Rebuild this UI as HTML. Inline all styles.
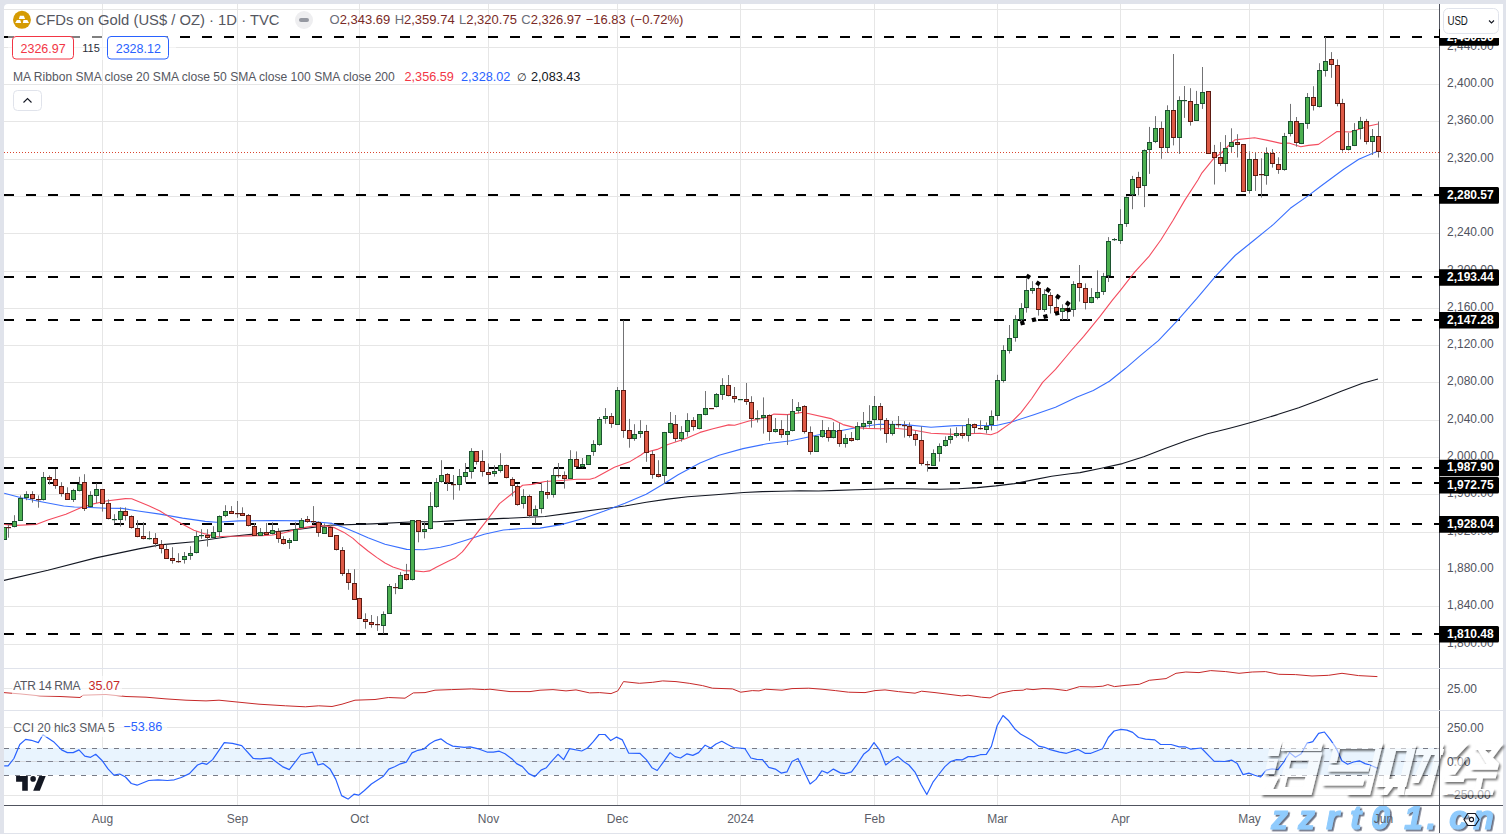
<!DOCTYPE html>
<html><head><meta charset="utf-8"><style>
html,body{margin:0;padding:0;}
body{width:1506px;height:834px;background:#e0e3eb;position:relative;overflow:hidden;font-family:"Liberation Sans",sans-serif;}
.panel{position:absolute;left:4px;top:4px;width:1499px;height:829px;background:#fff;border-radius:4px 4px 0 0;}
svg{position:absolute;left:0;top:0;}
.t{position:absolute;white-space:nowrap;line-height:1;}
</style></head><body>
<div class="panel"></div>
<svg width="1506" height="834" viewBox="0 0 1506 834">
<defs><clipPath id="cp"><rect x="4" y="4" width="1435" height="664"/></clipPath><clipPath id="cp2"><rect x="4" y="669" width="1435" height="136"/></clipPath></defs>
<line x1="4" y1="9.5" x2="1439" y2="9.5" stroke="#e6e6e6" stroke-width="1"/>
<line x1="4" y1="47.5" x2="1439" y2="47.5" stroke="#e6e6e6" stroke-width="1"/>
<line x1="4" y1="84.5" x2="1439" y2="84.5" stroke="#e6e6e6" stroke-width="1"/>
<line x1="4" y1="121.5" x2="1439" y2="121.5" stroke="#e6e6e6" stroke-width="1"/>
<line x1="4" y1="159.5" x2="1439" y2="159.5" stroke="#e6e6e6" stroke-width="1"/>
<line x1="4" y1="196.5" x2="1439" y2="196.5" stroke="#e6e6e6" stroke-width="1"/>
<line x1="4" y1="233.5" x2="1439" y2="233.5" stroke="#e6e6e6" stroke-width="1"/>
<line x1="4" y1="271.5" x2="1439" y2="271.5" stroke="#e6e6e6" stroke-width="1"/>
<line x1="4" y1="308.5" x2="1439" y2="308.5" stroke="#e6e6e6" stroke-width="1"/>
<line x1="4" y1="345.5" x2="1439" y2="345.5" stroke="#e6e6e6" stroke-width="1"/>
<line x1="4" y1="382.5" x2="1439" y2="382.5" stroke="#e6e6e6" stroke-width="1"/>
<line x1="4" y1="420.5" x2="1439" y2="420.5" stroke="#e6e6e6" stroke-width="1"/>
<line x1="4" y1="457.5" x2="1439" y2="457.5" stroke="#e6e6e6" stroke-width="1"/>
<line x1="4" y1="494.5" x2="1439" y2="494.5" stroke="#e6e6e6" stroke-width="1"/>
<line x1="4" y1="532.5" x2="1439" y2="532.5" stroke="#e6e6e6" stroke-width="1"/>
<line x1="4" y1="569.5" x2="1439" y2="569.5" stroke="#e6e6e6" stroke-width="1"/>
<line x1="4" y1="606.5" x2="1439" y2="606.5" stroke="#e6e6e6" stroke-width="1"/>
<line x1="4" y1="644.5" x2="1439" y2="644.5" stroke="#e6e6e6" stroke-width="1"/>
<line x1="102.5" y1="4" x2="102.5" y2="805" stroke="#e6e6e6" stroke-width="1"/>
<line x1="237.5" y1="4" x2="237.5" y2="805" stroke="#e6e6e6" stroke-width="1"/>
<line x1="359.5" y1="4" x2="359.5" y2="805" stroke="#e6e6e6" stroke-width="1"/>
<line x1="488.5" y1="4" x2="488.5" y2="805" stroke="#e6e6e6" stroke-width="1"/>
<line x1="617.5" y1="4" x2="617.5" y2="805" stroke="#e6e6e6" stroke-width="1"/>
<line x1="740.5" y1="4" x2="740.5" y2="805" stroke="#e6e6e6" stroke-width="1"/>
<line x1="874.5" y1="4" x2="874.5" y2="805" stroke="#e6e6e6" stroke-width="1"/>
<line x1="997.5" y1="4" x2="997.5" y2="805" stroke="#e6e6e6" stroke-width="1"/>
<line x1="1120.5" y1="4" x2="1120.5" y2="805" stroke="#e6e6e6" stroke-width="1"/>
<line x1="1249.5" y1="4" x2="1249.5" y2="805" stroke="#e6e6e6" stroke-width="1"/>
<line x1="1383.5" y1="4" x2="1383.5" y2="805" stroke="#e6e6e6" stroke-width="1"/>
<line x1="4" y1="688.5" x2="1439" y2="688.5" stroke="#e6e6e6" stroke-width="1"/>
<line x1="4" y1="727.5" x2="1439" y2="727.5" stroke="#e6e6e6" stroke-width="1"/>
<line x1="4" y1="795.5" x2="1439" y2="795.5" stroke="#e6e6e6" stroke-width="1"/>
<rect x="4" y="748" width="1435" height="27" fill="#e9f4fe"/>
<line x1="4" y1="761.5" x2="1439" y2="761.5" stroke="#d8dbe0" stroke-width="1"/>
<line x1="4" y1="748.5" x2="1439" y2="748.5" stroke="#787b86" stroke-width="1" stroke-dasharray="5 6"/>
<line x1="4" y1="761.5" x2="1439" y2="761.5" stroke="#808390" stroke-width="1" stroke-dasharray="5 6"/>
<line x1="4" y1="775.5" x2="1439" y2="775.5" stroke="#787b86" stroke-width="1" stroke-dasharray="5 6"/>
<line x1="4" y1="668.5" x2="1503" y2="668.5" stroke="#e0e3eb" stroke-width="1"/>
<line x1="4" y1="710.5" x2="1503" y2="710.5" stroke="#e0e3eb" stroke-width="1"/>
<g clip-path="url(#cp)">
<line x1="4" y1="37" x2="1439" y2="37" stroke="#000" stroke-width="2" stroke-dasharray="10 12"/>
<line x1="4" y1="195" x2="1439" y2="195" stroke="#000" stroke-width="2" stroke-dasharray="10 12"/>
<line x1="4" y1="277" x2="1439" y2="277" stroke="#000" stroke-width="2" stroke-dasharray="10 12"/>
<line x1="4" y1="320" x2="1439" y2="320" stroke="#000" stroke-width="2" stroke-dasharray="10 12"/>
<line x1="4" y1="468" x2="1439" y2="468" stroke="#000" stroke-width="2" stroke-dasharray="10 12"/>
<line x1="4" y1="483" x2="1439" y2="483" stroke="#000" stroke-width="2" stroke-dasharray="10 12"/>
<line x1="4" y1="524" x2="1439" y2="524" stroke="#000" stroke-width="2" stroke-dasharray="10 12"/>
<line x1="4" y1="634" x2="1439" y2="634" stroke="#000" stroke-width="2" stroke-dasharray="10 12"/>
<line x1="4" y1="152.5" x2="1439" y2="152.5" stroke="#d9442e" stroke-width="1" stroke-dasharray="1 2"/>
<polyline points="4.0,580.4 47.9,570.3 95.9,557.9 140.0,548.6 160.0,544.9 193.9,541.8 227.7,536.7 261.6,533.3 295.5,529.6 330.0,525.2 372.5,523.9 415.0,521.8 436.2,521.8 465.0,520.1 503.4,518.4 545.0,516.5 571.9,512.9 603.7,508.7 625.0,506.0 646.2,502.3 667.5,499.1 687.9,496.7 715.8,494.7 743.7,492.5 762.3,491.6 780.9,491.3 800.0,490.8 818.6,491.0 837.2,490.4 855.8,489.8 874.4,489.2 893.0,488.7 911.6,488.7 920.9,489.0 940.0,489.3 958.6,488.7 977.2,487.6 995.8,485.9 1014.4,483.6 1033.0,479.9 1051.6,476.3 1070.1,473.8 1080.0,472.6 1101.2,468.3 1122.5,463.6 1143.7,456.7 1165.0,448.5 1186.2,440.7 1207.5,433.8 1228.7,428.5 1240.0,425.5 1256.2,421.0 1277.5,414.6 1298.7,407.7 1320.0,399.7 1341.2,391.2 1362.5,383.3 1378.0,379.0" fill="none" stroke="#131722" stroke-width="1.1" stroke-linejoin="round"/>
<polyline points="4.2,493.3 21.2,497.7 42.5,502.0 63.7,506.0 74.4,507.0 85.0,507.3 106.2,508.2 122.2,508.4 138.1,511.0 160.0,514.1 182.6,518.1 205.2,521.4 216.4,522.2 239.0,520.9 272.9,520.5 301.1,520.9 320.0,522.2 332.0,523.4 344.0,527.6 356.0,532.4 368.0,537.8 385.0,544.2 406.7,549.4 423.6,549.7 440.4,547.2 450.6,545.0 465.0,540.5 484.2,534.3 503.4,530.0 522.6,528.5 540.0,528.1 561.2,524.6 582.5,518.7 603.7,511.3 625.0,503.3 646.2,494.3 662.2,484.7 678.1,474.7 700.0,463.0 719.0,455.2 743.0,448.6 767.0,443.8 791.0,440.8 805.0,437.8 819.0,434.8 843.0,430.3 861.0,426.7 879.0,424.3 905.0,424.6 931.0,427.2 955.0,425.6 980.0,425.5 996.2,425.5 1012.4,421.7 1033.9,414.7 1055.5,407.2 1077.1,396.9 1093.3,390.5 1109.4,381.3 1125.6,368.3 1140.0,355.9 1158.4,340.7 1177.6,320.3 1196.7,298.7 1215.9,275.9 1235.1,255.5 1254.3,240.0 1273.5,224.4 1290.3,208.3 1309.4,194.9 1320.0,186.7 1343.7,169.3 1358.8,159.2 1378.0,151.0" fill="none" stroke="#3a70ff" stroke-width="1.1" stroke-linejoin="round"/>
<polyline points="4.0,524.5 15.9,525.4 36.1,524.5 47.8,520.0 65.9,514.2 80.7,507.8 92.4,504.1 106.2,501.0 125.4,498.6 131.7,498.8 148.7,505.7 160.0,511.0 171.3,518.1 182.6,524.3 193.9,530.3 205.2,533.9 216.4,536.7 227.7,536.3 239.0,536.3 250.3,535.9 261.6,535.6 272.9,535.0 284.2,532.7 295.5,529.6 306.7,527.1 318.0,525.4 329.0,526.4 335.0,527.9 344.0,532.4 353.0,538.4 359.0,543.8 368.0,551.0 377.0,557.6 385.0,563.0 392.9,566.9 403.8,570.6 414.8,570.9 423.6,571.7 429.4,570.9 436.7,566.9 447.7,561.4 455.0,558.1 462.3,551.9 465.0,548.7 474.6,536.2 488.0,518.9 499.5,503.6 511.0,494.5 522.6,485.3 532.1,484.4 540.0,482.6 545.0,481.5 561.2,480.5 577.2,479.2 589.9,479.2 595.2,477.8 614.4,467.2 630.3,461.4 640.9,455.0 644.0,452.8 657.2,449.4 668.0,444.4 686.0,438.4 700.0,432.4 713.0,428.8 728.6,424.9 734.6,425.3 749.0,421.0 767.0,417.4 774.0,414.1 787.4,414.6 805.0,412.0 807.0,413.2 831.0,418.6 843.0,424.6 855.0,427.6 867.0,428.4 879.0,428.8 895.0,428.2 913.0,430.0 931.0,433.2 955.0,434.4 980.0,433.3 990.8,434.7 997.3,432.5 1010.2,423.4 1021.0,412.6 1031.8,398.5 1042.6,382.4 1055.5,369.4 1066.3,356.5 1071.7,350.0 1083.5,336.7 1100.0,316.4 1112.4,300.2 1120.0,290.8 1134.4,272.3 1148.8,256.7 1160.8,240.0 1172.8,220.8 1184.7,200.4 1197.9,180.0 1202.0,172.8 1213.8,158.4 1221.6,152.7 1228.2,146.0 1234.8,139.9 1254.6,137.8 1267.8,140.4 1281.0,143.4 1288.9,143.0 1300.8,146.7 1308.4,145.4 1318.5,144.4 1328.6,137.4 1337.0,131.5 1350.4,132.0 1362.1,128.2 1368.8,126.0 1378.0,124.0" fill="none" stroke="#f44c5f" stroke-width="1.1" stroke-linejoin="round"/>
<line x1="4.5" y1="527.0" x2="4.5" y2="540.0" stroke="#737375" stroke-width="1"/>
<rect x="2.5" y="527.5" width="4" height="12" fill="#4caf50" stroke="#1c5230" stroke-width="1"/>
<line x1="8.5" y1="524.8" x2="8.5" y2="537.7" stroke="#737375" stroke-width="1"/>
<rect x="6" y="527" width="5" height="1.2" fill="#5c1a12"/>
<line x1="14.5" y1="515.2" x2="14.5" y2="527.4" stroke="#737375" stroke-width="1"/>
<rect x="12.5" y="521.5" width="4" height="5" fill="#4caf50" stroke="#1c5230" stroke-width="1"/>
<line x1="20.5" y1="495.4" x2="20.5" y2="520.6" stroke="#737375" stroke-width="1"/>
<rect x="18.5" y="498.5" width="4" height="22" fill="#4caf50" stroke="#1c5230" stroke-width="1"/>
<line x1="26.5" y1="491.2" x2="26.5" y2="500.2" stroke="#737375" stroke-width="1"/>
<rect x="24.5" y="494.5" width="4" height="3" fill="#4caf50" stroke="#1c5230" stroke-width="1"/>
<line x1="32.5" y1="491.2" x2="32.5" y2="502.6" stroke="#737375" stroke-width="1"/>
<rect x="30.5" y="494.5" width="4" height="4" fill="#de5a46" stroke="#5c1a12" stroke-width="1"/>
<line x1="38.5" y1="495.4" x2="38.5" y2="507.7" stroke="#737375" stroke-width="1"/>
<rect x="36" y="499" width="5" height="1.2" fill="#5c1a12"/>
<line x1="43.5" y1="472.0" x2="43.5" y2="500.5" stroke="#737375" stroke-width="1"/>
<rect x="41.5" y="477.5" width="4" height="22" fill="#4caf50" stroke="#1c5230" stroke-width="1"/>
<line x1="49.5" y1="475.4" x2="49.5" y2="484.6" stroke="#737375" stroke-width="1"/>
<rect x="47.5" y="477.5" width="4" height="2" fill="#de5a46" stroke="#5c1a12" stroke-width="1"/>
<line x1="55.5" y1="469.0" x2="55.5" y2="488.8" stroke="#737375" stroke-width="1"/>
<rect x="53.5" y="479.5" width="4" height="6" fill="#de5a46" stroke="#5c1a12" stroke-width="1"/>
<line x1="61.5" y1="482.2" x2="61.5" y2="496.6" stroke="#737375" stroke-width="1"/>
<rect x="59.5" y="486.5" width="4" height="7" fill="#de5a46" stroke="#5c1a12" stroke-width="1"/>
<line x1="67.5" y1="487.3" x2="67.5" y2="499.6" stroke="#737375" stroke-width="1"/>
<rect x="65.5" y="493.5" width="4" height="6" fill="#de5a46" stroke="#5c1a12" stroke-width="1"/>
<line x1="73.5" y1="488.8" x2="73.5" y2="502.0" stroke="#737375" stroke-width="1"/>
<rect x="71.5" y="490.5" width="4" height="9" fill="#4caf50" stroke="#1c5230" stroke-width="1"/>
<line x1="79.5" y1="476.8" x2="79.5" y2="491.4" stroke="#737375" stroke-width="1"/>
<rect x="77.5" y="484.5" width="4" height="6" fill="#4caf50" stroke="#1c5230" stroke-width="1"/>
<line x1="84.5" y1="474.2" x2="84.5" y2="511.0" stroke="#737375" stroke-width="1"/>
<rect x="82.5" y="482.5" width="4" height="26" fill="#de5a46" stroke="#5c1a12" stroke-width="1"/>
<line x1="90.5" y1="491.2" x2="90.5" y2="507.4" stroke="#737375" stroke-width="1"/>
<rect x="88.5" y="495.5" width="4" height="11" fill="#4caf50" stroke="#1c5230" stroke-width="1"/>
<line x1="96.5" y1="483.4" x2="96.5" y2="503.0" stroke="#737375" stroke-width="1"/>
<rect x="94.5" y="489.5" width="4" height="6" fill="#4caf50" stroke="#1c5230" stroke-width="1"/>
<line x1="102.5" y1="489.1" x2="102.5" y2="511.6" stroke="#737375" stroke-width="1"/>
<rect x="100.5" y="489.5" width="4" height="14" fill="#de5a46" stroke="#5c1a12" stroke-width="1"/>
<line x1="108.5" y1="499.3" x2="108.5" y2="519.4" stroke="#737375" stroke-width="1"/>
<rect x="106.5" y="503.5" width="4" height="15" fill="#de5a46" stroke="#5c1a12" stroke-width="1"/>
<line x1="114.5" y1="514.2" x2="114.5" y2="523.6" stroke="#737375" stroke-width="1"/>
<rect x="112" y="519" width="5" height="1.2" fill="#1c5230"/>
<line x1="120.5" y1="507.4" x2="120.5" y2="526.6" stroke="#737375" stroke-width="1"/>
<rect x="118.5" y="511.5" width="4" height="8" fill="#4caf50" stroke="#1c5230" stroke-width="1"/>
<line x1="125.5" y1="507.4" x2="125.5" y2="520.6" stroke="#737375" stroke-width="1"/>
<rect x="123.5" y="511.5" width="4" height="4" fill="#de5a46" stroke="#5c1a12" stroke-width="1"/>
<line x1="131.5" y1="515.4" x2="131.5" y2="528.6" stroke="#737375" stroke-width="1"/>
<rect x="129.5" y="516.5" width="4" height="11" fill="#de5a46" stroke="#5c1a12" stroke-width="1"/>
<line x1="137.5" y1="520.2" x2="137.5" y2="537.3" stroke="#737375" stroke-width="1"/>
<rect x="135.5" y="528.5" width="4" height="8" fill="#de5a46" stroke="#5c1a12" stroke-width="1"/>
<line x1="143.5" y1="522.2" x2="143.5" y2="539.4" stroke="#737375" stroke-width="1"/>
<rect x="141.5" y="536.5" width="4" height="2" fill="#de5a46" stroke="#5c1a12" stroke-width="1"/>
<line x1="149.5" y1="531.3" x2="149.5" y2="539.6" stroke="#737375" stroke-width="1"/>
<rect x="147" y="538" width="5" height="1.2" fill="#1c5230"/>
<line x1="155.5" y1="533.1" x2="155.5" y2="547.2" stroke="#737375" stroke-width="1"/>
<rect x="153.5" y="538.5" width="4" height="5" fill="#de5a46" stroke="#5c1a12" stroke-width="1"/>
<line x1="161.5" y1="540.0" x2="161.5" y2="553.4" stroke="#737375" stroke-width="1"/>
<rect x="159.5" y="544.5" width="4" height="4" fill="#de5a46" stroke="#5c1a12" stroke-width="1"/>
<line x1="166.5" y1="544.8" x2="166.5" y2="558.6" stroke="#737375" stroke-width="1"/>
<rect x="164.5" y="549.5" width="4" height="9" fill="#de5a46" stroke="#5c1a12" stroke-width="1"/>
<line x1="172.5" y1="547.2" x2="172.5" y2="563.6" stroke="#737375" stroke-width="1"/>
<rect x="170.5" y="558.5" width="4" height="2" fill="#de5a46" stroke="#5c1a12" stroke-width="1"/>
<line x1="178.5" y1="553.2" x2="178.5" y2="562.8" stroke="#737375" stroke-width="1"/>
<rect x="176" y="561" width="5" height="1.2" fill="#5c1a12"/>
<line x1="184.5" y1="552.0" x2="184.5" y2="563.6" stroke="#737375" stroke-width="1"/>
<rect x="182.5" y="556.5" width="4" height="3" fill="#4caf50" stroke="#1c5230" stroke-width="1"/>
<line x1="190.5" y1="546.2" x2="190.5" y2="559.8" stroke="#737375" stroke-width="1"/>
<rect x="188.5" y="553.5" width="4" height="2" fill="#4caf50" stroke="#1c5230" stroke-width="1"/>
<line x1="196.5" y1="531.3" x2="196.5" y2="553.4" stroke="#737375" stroke-width="1"/>
<rect x="194.5" y="536.5" width="4" height="16" fill="#4caf50" stroke="#1c5230" stroke-width="1"/>
<line x1="201.5" y1="529.2" x2="201.5" y2="538.8" stroke="#737375" stroke-width="1"/>
<rect x="199" y="535" width="5" height="1.2" fill="#1c5230"/>
<line x1="207.5" y1="529.2" x2="207.5" y2="546.6" stroke="#737375" stroke-width="1"/>
<rect x="205.5" y="535.5" width="4" height="2" fill="#de5a46" stroke="#5c1a12" stroke-width="1"/>
<line x1="213.5" y1="526.2" x2="213.5" y2="537.6" stroke="#737375" stroke-width="1"/>
<rect x="211.5" y="532.5" width="4" height="5" fill="#4caf50" stroke="#1c5230" stroke-width="1"/>
<line x1="219.5" y1="515.4" x2="219.5" y2="537.0" stroke="#737375" stroke-width="1"/>
<rect x="217.5" y="516.5" width="4" height="15" fill="#4caf50" stroke="#1c5230" stroke-width="1"/>
<line x1="225.5" y1="505.2" x2="225.5" y2="517.2" stroke="#737375" stroke-width="1"/>
<rect x="223.5" y="511.5" width="4" height="4" fill="#4caf50" stroke="#1c5230" stroke-width="1"/>
<line x1="231.5" y1="506.1" x2="231.5" y2="513.3" stroke="#737375" stroke-width="1"/>
<rect x="229.5" y="511.5" width="4" height="2" fill="#de5a46" stroke="#5c1a12" stroke-width="1"/>
<line x1="237.5" y1="501.0" x2="237.5" y2="517.8" stroke="#737375" stroke-width="1"/>
<rect x="235" y="513" width="5" height="1.2" fill="#5c1a12"/>
<line x1="242.5" y1="507.3" x2="242.5" y2="515.4" stroke="#737375" stroke-width="1"/>
<rect x="240.5" y="513.5" width="4" height="2" fill="#de5a46" stroke="#5c1a12" stroke-width="1"/>
<line x1="248.5" y1="514.0" x2="248.5" y2="526.5" stroke="#737375" stroke-width="1"/>
<rect x="246.5" y="515.5" width="4" height="10" fill="#de5a46" stroke="#5c1a12" stroke-width="1"/>
<line x1="254.5" y1="523.0" x2="254.5" y2="535.5" stroke="#737375" stroke-width="1"/>
<rect x="252.5" y="526.5" width="4" height="9" fill="#de5a46" stroke="#5c1a12" stroke-width="1"/>
<line x1="260.5" y1="528.0" x2="260.5" y2="535.5" stroke="#737375" stroke-width="1"/>
<rect x="258.5" y="532.5" width="4" height="3" fill="#4caf50" stroke="#1c5230" stroke-width="1"/>
<line x1="266.5" y1="523.0" x2="266.5" y2="534.5" stroke="#737375" stroke-width="1"/>
<rect x="264.5" y="532.5" width="4" height="2" fill="#de5a46" stroke="#5c1a12" stroke-width="1"/>
<line x1="272.5" y1="522.3" x2="272.5" y2="534.5" stroke="#737375" stroke-width="1"/>
<rect x="270.5" y="530.5" width="4" height="3" fill="#4caf50" stroke="#1c5230" stroke-width="1"/>
<line x1="278.5" y1="528.2" x2="278.5" y2="542.8" stroke="#737375" stroke-width="1"/>
<rect x="276.5" y="531.5" width="4" height="7" fill="#de5a46" stroke="#5c1a12" stroke-width="1"/>
<line x1="283.5" y1="536.3" x2="283.5" y2="544.6" stroke="#737375" stroke-width="1"/>
<rect x="281.5" y="539.5" width="4" height="4" fill="#de5a46" stroke="#5c1a12" stroke-width="1"/>
<line x1="289.5" y1="538.1" x2="289.5" y2="548.9" stroke="#737375" stroke-width="1"/>
<rect x="287.5" y="540.5" width="4" height="2" fill="#4caf50" stroke="#1c5230" stroke-width="1"/>
<line x1="295.5" y1="522.3" x2="295.5" y2="540.6" stroke="#737375" stroke-width="1"/>
<rect x="293.5" y="529.5" width="4" height="11" fill="#4caf50" stroke="#1c5230" stroke-width="1"/>
<line x1="301.5" y1="518.0" x2="301.5" y2="528.4" stroke="#737375" stroke-width="1"/>
<rect x="299.5" y="520.5" width="4" height="7" fill="#4caf50" stroke="#1c5230" stroke-width="1"/>
<line x1="307.5" y1="516.0" x2="307.5" y2="522.9" stroke="#737375" stroke-width="1"/>
<rect x="305.5" y="519.5" width="4" height="2" fill="#de5a46" stroke="#5c1a12" stroke-width="1"/>
<line x1="313.5" y1="506.1" x2="313.5" y2="523.7" stroke="#737375" stroke-width="1"/>
<rect x="311" y="521" width="5" height="1.2" fill="#5c1a12"/>
<line x1="318.5" y1="521.4" x2="318.5" y2="536.8" stroke="#737375" stroke-width="1"/>
<rect x="316.5" y="522.5" width="4" height="10" fill="#de5a46" stroke="#5c1a12" stroke-width="1"/>
<line x1="324.5" y1="523.4" x2="324.5" y2="533.5" stroke="#737375" stroke-width="1"/>
<rect x="322.5" y="527.5" width="4" height="6" fill="#4caf50" stroke="#1c5230" stroke-width="1"/>
<line x1="330.5" y1="524.8" x2="330.5" y2="536.7" stroke="#737375" stroke-width="1"/>
<rect x="328.5" y="527.5" width="4" height="9" fill="#de5a46" stroke="#5c1a12" stroke-width="1"/>
<line x1="336.5" y1="535.3" x2="336.5" y2="550.5" stroke="#737375" stroke-width="1"/>
<rect x="334.5" y="535.5" width="4" height="14" fill="#de5a46" stroke="#5c1a12" stroke-width="1"/>
<line x1="342.5" y1="547.1" x2="342.5" y2="575.9" stroke="#737375" stroke-width="1"/>
<rect x="340.5" y="550.5" width="4" height="23" fill="#de5a46" stroke="#5c1a12" stroke-width="1"/>
<line x1="348.5" y1="569.2" x2="348.5" y2="589.8" stroke="#737375" stroke-width="1"/>
<rect x="346.5" y="573.5" width="4" height="9" fill="#de5a46" stroke="#5c1a12" stroke-width="1"/>
<line x1="354.5" y1="569.2" x2="354.5" y2="599.5" stroke="#737375" stroke-width="1"/>
<rect x="352.5" y="583.5" width="4" height="16" fill="#de5a46" stroke="#5c1a12" stroke-width="1"/>
<line x1="359.5" y1="597.8" x2="359.5" y2="618.6" stroke="#737375" stroke-width="1"/>
<rect x="357.5" y="598.5" width="4" height="20" fill="#de5a46" stroke="#5c1a12" stroke-width="1"/>
<line x1="365.5" y1="613.3" x2="365.5" y2="628.7" stroke="#737375" stroke-width="1"/>
<rect x="363.5" y="619.5" width="4" height="2" fill="#de5a46" stroke="#5c1a12" stroke-width="1"/>
<line x1="371.5" y1="615.0" x2="371.5" y2="627.7" stroke="#737375" stroke-width="1"/>
<rect x="369.5" y="622.5" width="4" height="2" fill="#de5a46" stroke="#5c1a12" stroke-width="1"/>
<line x1="377.5" y1="616.2" x2="377.5" y2="630.9" stroke="#737375" stroke-width="1"/>
<rect x="375" y="624" width="5" height="1.2" fill="#5c1a12"/>
<line x1="383.5" y1="611.4" x2="383.5" y2="633.7" stroke="#737375" stroke-width="1"/>
<rect x="381.5" y="614.5" width="4" height="11" fill="#4caf50" stroke="#1c5230" stroke-width="1"/>
<line x1="389.5" y1="584.0" x2="389.5" y2="613.6" stroke="#737375" stroke-width="1"/>
<rect x="387.5" y="586.5" width="4" height="27" fill="#4caf50" stroke="#1c5230" stroke-width="1"/>
<line x1="395.5" y1="583.1" x2="395.5" y2="594.2" stroke="#737375" stroke-width="1"/>
<rect x="393" y="587" width="5" height="1.2" fill="#5c1a12"/>
<line x1="400.5" y1="572.1" x2="400.5" y2="588.7" stroke="#737375" stroke-width="1"/>
<rect x="398.5" y="575.5" width="4" height="13" fill="#4caf50" stroke="#1c5230" stroke-width="1"/>
<line x1="406.5" y1="563.9" x2="406.5" y2="580.5" stroke="#737375" stroke-width="1"/>
<rect x="404.5" y="574.5" width="4" height="5" fill="#de5a46" stroke="#5c1a12" stroke-width="1"/>
<line x1="412.5" y1="520.4" x2="412.5" y2="580.5" stroke="#737375" stroke-width="1"/>
<rect x="410.5" y="520.5" width="4" height="59" fill="#4caf50" stroke="#1c5230" stroke-width="1"/>
<line x1="418.5" y1="520.4" x2="418.5" y2="542.3" stroke="#737375" stroke-width="1"/>
<rect x="416.5" y="520.5" width="4" height="11" fill="#de5a46" stroke="#5c1a12" stroke-width="1"/>
<line x1="424.5" y1="521.6" x2="424.5" y2="538.4" stroke="#737375" stroke-width="1"/>
<rect x="422.5" y="529.5" width="4" height="2" fill="#4caf50" stroke="#1c5230" stroke-width="1"/>
<line x1="430.5" y1="492.2" x2="430.5" y2="529.4" stroke="#737375" stroke-width="1"/>
<rect x="428.5" y="506.5" width="4" height="22" fill="#4caf50" stroke="#1c5230" stroke-width="1"/>
<line x1="436.5" y1="478.1" x2="436.5" y2="507.8" stroke="#737375" stroke-width="1"/>
<rect x="434.5" y="482.5" width="4" height="24" fill="#4caf50" stroke="#1c5230" stroke-width="1"/>
<line x1="441.5" y1="460.2" x2="441.5" y2="482.6" stroke="#737375" stroke-width="1"/>
<rect x="439.5" y="475.5" width="4" height="6" fill="#4caf50" stroke="#1c5230" stroke-width="1"/>
<line x1="447.5" y1="473.0" x2="447.5" y2="491.0" stroke="#737375" stroke-width="1"/>
<rect x="445.5" y="474.5" width="4" height="8" fill="#de5a46" stroke="#5c1a12" stroke-width="1"/>
<line x1="453.5" y1="475.0" x2="453.5" y2="499.7" stroke="#737375" stroke-width="1"/>
<rect x="451" y="484" width="5" height="1.2" fill="#5c1a12"/>
<line x1="459.5" y1="469.0" x2="459.5" y2="490.6" stroke="#737375" stroke-width="1"/>
<rect x="457.5" y="476.5" width="4" height="8" fill="#4caf50" stroke="#1c5230" stroke-width="1"/>
<line x1="465.5" y1="463.0" x2="465.5" y2="482.6" stroke="#737375" stroke-width="1"/>
<rect x="463.5" y="472.5" width="4" height="4" fill="#4caf50" stroke="#1c5230" stroke-width="1"/>
<line x1="471.5" y1="448.2" x2="471.5" y2="478.6" stroke="#737375" stroke-width="1"/>
<rect x="469.5" y="451.5" width="4" height="20" fill="#4caf50" stroke="#1c5230" stroke-width="1"/>
<line x1="476.5" y1="451.4" x2="476.5" y2="464.6" stroke="#737375" stroke-width="1"/>
<rect x="474.5" y="451.5" width="4" height="10" fill="#de5a46" stroke="#5c1a12" stroke-width="1"/>
<line x1="482.5" y1="450.2" x2="482.5" y2="476.6" stroke="#737375" stroke-width="1"/>
<rect x="480.5" y="461.5" width="4" height="10" fill="#de5a46" stroke="#5c1a12" stroke-width="1"/>
<line x1="488.5" y1="463.4" x2="488.5" y2="484.4" stroke="#737375" stroke-width="1"/>
<rect x="486.5" y="472.5" width="4" height="2" fill="#de5a46" stroke="#5c1a12" stroke-width="1"/>
<line x1="494.5" y1="465.2" x2="494.5" y2="476.6" stroke="#737375" stroke-width="1"/>
<rect x="492.5" y="471.5" width="4" height="2" fill="#4caf50" stroke="#1c5230" stroke-width="1"/>
<line x1="500.5" y1="453.2" x2="500.5" y2="472.6" stroke="#737375" stroke-width="1"/>
<rect x="498.5" y="465.5" width="4" height="5" fill="#4caf50" stroke="#1c5230" stroke-width="1"/>
<line x1="506.5" y1="464.6" x2="506.5" y2="478.4" stroke="#737375" stroke-width="1"/>
<rect x="504.5" y="465.5" width="4" height="12" fill="#de5a46" stroke="#5c1a12" stroke-width="1"/>
<line x1="512.5" y1="477.2" x2="512.5" y2="496.4" stroke="#737375" stroke-width="1"/>
<rect x="510.5" y="479.5" width="4" height="6" fill="#de5a46" stroke="#5c1a12" stroke-width="1"/>
<line x1="517.5" y1="484.4" x2="517.5" y2="505.7" stroke="#737375" stroke-width="1"/>
<rect x="515.5" y="486.5" width="4" height="18" fill="#de5a46" stroke="#5c1a12" stroke-width="1"/>
<line x1="523.5" y1="489.2" x2="523.5" y2="508.6" stroke="#737375" stroke-width="1"/>
<rect x="521.5" y="496.5" width="4" height="7" fill="#4caf50" stroke="#1c5230" stroke-width="1"/>
<line x1="529.5" y1="494.6" x2="529.5" y2="518.2" stroke="#737375" stroke-width="1"/>
<rect x="527.5" y="496.5" width="4" height="19" fill="#de5a46" stroke="#5c1a12" stroke-width="1"/>
<line x1="535.5" y1="505.4" x2="535.5" y2="523.4" stroke="#737375" stroke-width="1"/>
<rect x="533.5" y="509.5" width="4" height="6" fill="#4caf50" stroke="#1c5230" stroke-width="1"/>
<line x1="541.5" y1="483.0" x2="541.5" y2="513.4" stroke="#737375" stroke-width="1"/>
<rect x="539.5" y="491.5" width="4" height="17" fill="#4caf50" stroke="#1c5230" stroke-width="1"/>
<line x1="547.5" y1="480.2" x2="547.5" y2="498.8" stroke="#737375" stroke-width="1"/>
<rect x="545.5" y="492.5" width="4" height="2" fill="#de5a46" stroke="#5c1a12" stroke-width="1"/>
<line x1="553.5" y1="468.2" x2="553.5" y2="497.6" stroke="#737375" stroke-width="1"/>
<rect x="551.5" y="475.5" width="4" height="19" fill="#4caf50" stroke="#1c5230" stroke-width="1"/>
<line x1="558.5" y1="463.0" x2="558.5" y2="477.8" stroke="#737375" stroke-width="1"/>
<rect x="556" y="475" width="5" height="1.2" fill="#5c1a12"/>
<line x1="564.5" y1="471.4" x2="564.5" y2="488.6" stroke="#737375" stroke-width="1"/>
<rect x="562.5" y="475.5" width="4" height="3" fill="#de5a46" stroke="#5c1a12" stroke-width="1"/>
<line x1="570.5" y1="450.2" x2="570.5" y2="478.6" stroke="#737375" stroke-width="1"/>
<rect x="568.5" y="459.5" width="4" height="19" fill="#4caf50" stroke="#1c5230" stroke-width="1"/>
<line x1="576.5" y1="451.4" x2="576.5" y2="467.4" stroke="#737375" stroke-width="1"/>
<rect x="574.5" y="459.5" width="4" height="7" fill="#de5a46" stroke="#5c1a12" stroke-width="1"/>
<line x1="582.5" y1="458.0" x2="582.5" y2="467.4" stroke="#737375" stroke-width="1"/>
<rect x="580.5" y="464.5" width="4" height="2" fill="#4caf50" stroke="#1c5230" stroke-width="1"/>
<line x1="588.5" y1="455.4" x2="588.5" y2="464.6" stroke="#737375" stroke-width="1"/>
<rect x="586.5" y="455.5" width="4" height="9" fill="#4caf50" stroke="#1c5230" stroke-width="1"/>
<line x1="593.5" y1="440.2" x2="593.5" y2="455.8" stroke="#737375" stroke-width="1"/>
<rect x="591.5" y="444.5" width="4" height="7" fill="#4caf50" stroke="#1c5230" stroke-width="1"/>
<line x1="599.5" y1="417.0" x2="599.5" y2="445.8" stroke="#737375" stroke-width="1"/>
<rect x="597.5" y="419.5" width="4" height="25" fill="#4caf50" stroke="#1c5230" stroke-width="1"/>
<line x1="605.5" y1="408.1" x2="605.5" y2="423.7" stroke="#737375" stroke-width="1"/>
<rect x="603.5" y="416.5" width="4" height="2" fill="#4caf50" stroke="#1c5230" stroke-width="1"/>
<line x1="611.5" y1="413.0" x2="611.5" y2="427.8" stroke="#737375" stroke-width="1"/>
<rect x="609.5" y="416.5" width="4" height="7" fill="#de5a46" stroke="#5c1a12" stroke-width="1"/>
<line x1="617.5" y1="387.0" x2="617.5" y2="424.6" stroke="#737375" stroke-width="1"/>
<rect x="615.5" y="390.5" width="4" height="34" fill="#4caf50" stroke="#1c5230" stroke-width="1"/>
<line x1="623.5" y1="320.4" x2="623.5" y2="437.8" stroke="#737375" stroke-width="1"/>
<rect x="621.5" y="390.5" width="4" height="40" fill="#de5a46" stroke="#5c1a12" stroke-width="1"/>
<line x1="629.5" y1="418.9" x2="629.5" y2="447.7" stroke="#737375" stroke-width="1"/>
<rect x="627.5" y="430.5" width="4" height="8" fill="#de5a46" stroke="#5c1a12" stroke-width="1"/>
<line x1="634.5" y1="424.2" x2="634.5" y2="440.8" stroke="#737375" stroke-width="1"/>
<rect x="632.5" y="434.5" width="4" height="4" fill="#4caf50" stroke="#1c5230" stroke-width="1"/>
<line x1="640.5" y1="420.1" x2="640.5" y2="437.8" stroke="#737375" stroke-width="1"/>
<rect x="638.5" y="431.5" width="4" height="2" fill="#4caf50" stroke="#1c5230" stroke-width="1"/>
<line x1="646.5" y1="424.9" x2="646.5" y2="461.8" stroke="#737375" stroke-width="1"/>
<rect x="644.5" y="431.5" width="4" height="21" fill="#de5a46" stroke="#5c1a12" stroke-width="1"/>
<line x1="652.5" y1="450.6" x2="652.5" y2="478.7" stroke="#737375" stroke-width="1"/>
<rect x="650.5" y="454.5" width="4" height="20" fill="#de5a46" stroke="#5c1a12" stroke-width="1"/>
<line x1="658.5" y1="460.2" x2="658.5" y2="477.5" stroke="#737375" stroke-width="1"/>
<rect x="656.5" y="474.5" width="4" height="2" fill="#de5a46" stroke="#5c1a12" stroke-width="1"/>
<line x1="664.5" y1="431.9" x2="664.5" y2="483.5" stroke="#737375" stroke-width="1"/>
<rect x="662.5" y="432.5" width="4" height="43" fill="#4caf50" stroke="#1c5230" stroke-width="1"/>
<line x1="670.5" y1="412.0" x2="670.5" y2="433.6" stroke="#737375" stroke-width="1"/>
<rect x="668.5" y="423.5" width="4" height="9" fill="#4caf50" stroke="#1c5230" stroke-width="1"/>
<line x1="675.5" y1="415.0" x2="675.5" y2="441.7" stroke="#737375" stroke-width="1"/>
<rect x="673.5" y="424.5" width="4" height="14" fill="#de5a46" stroke="#5c1a12" stroke-width="1"/>
<line x1="681.5" y1="426.1" x2="681.5" y2="441.7" stroke="#737375" stroke-width="1"/>
<rect x="679.5" y="432.5" width="4" height="6" fill="#4caf50" stroke="#1c5230" stroke-width="1"/>
<line x1="687.5" y1="413.2" x2="687.5" y2="436.6" stroke="#737375" stroke-width="1"/>
<rect x="685.5" y="420.5" width="4" height="11" fill="#4caf50" stroke="#1c5230" stroke-width="1"/>
<line x1="693.5" y1="417.1" x2="693.5" y2="430.6" stroke="#737375" stroke-width="1"/>
<rect x="691.5" y="420.5" width="4" height="6" fill="#de5a46" stroke="#5c1a12" stroke-width="1"/>
<line x1="699.5" y1="414.4" x2="699.5" y2="429.4" stroke="#737375" stroke-width="1"/>
<rect x="697.5" y="414.5" width="4" height="14" fill="#4caf50" stroke="#1c5230" stroke-width="1"/>
<line x1="705.5" y1="391.0" x2="705.5" y2="415.3" stroke="#737375" stroke-width="1"/>
<rect x="703.5" y="408.5" width="4" height="6" fill="#4caf50" stroke="#1c5230" stroke-width="1"/>
<rect x="709" y="408" width="5" height="1.2" fill="#5c1a12"/>
<line x1="716.5" y1="393.0" x2="716.5" y2="407.4" stroke="#737375" stroke-width="1"/>
<rect x="714.5" y="394.5" width="4" height="12" fill="#4caf50" stroke="#1c5230" stroke-width="1"/>
<line x1="722.5" y1="378.2" x2="722.5" y2="399.8" stroke="#737375" stroke-width="1"/>
<rect x="720.5" y="385.5" width="4" height="9" fill="#4caf50" stroke="#1c5230" stroke-width="1"/>
<line x1="728.5" y1="375.0" x2="728.5" y2="396.4" stroke="#737375" stroke-width="1"/>
<rect x="726.5" y="385.5" width="4" height="10" fill="#de5a46" stroke="#5c1a12" stroke-width="1"/>
<line x1="734.5" y1="387.0" x2="734.5" y2="402.6" stroke="#737375" stroke-width="1"/>
<rect x="732.5" y="396.5" width="4" height="2" fill="#de5a46" stroke="#5c1a12" stroke-width="1"/>
<rect x="738" y="399" width="5" height="1.2" fill="#1c5230"/>
<line x1="746.5" y1="383.0" x2="746.5" y2="404.8" stroke="#737375" stroke-width="1"/>
<rect x="744.5" y="399.5" width="4" height="2" fill="#de5a46" stroke="#5c1a12" stroke-width="1"/>
<line x1="751.5" y1="396.2" x2="751.5" y2="427.6" stroke="#737375" stroke-width="1"/>
<rect x="749.5" y="402.5" width="4" height="16" fill="#de5a46" stroke="#5c1a12" stroke-width="1"/>
<line x1="757.5" y1="410.2" x2="757.5" y2="422.5" stroke="#737375" stroke-width="1"/>
<rect x="755" y="418" width="5" height="1.2" fill="#1c5230"/>
<line x1="763.5" y1="397.4" x2="763.5" y2="433.6" stroke="#737375" stroke-width="1"/>
<rect x="761.5" y="415.5" width="4" height="2" fill="#4caf50" stroke="#1c5230" stroke-width="1"/>
<line x1="769.5" y1="414.4" x2="769.5" y2="440.8" stroke="#737375" stroke-width="1"/>
<rect x="767.5" y="415.5" width="4" height="16" fill="#de5a46" stroke="#5c1a12" stroke-width="1"/>
<line x1="775.5" y1="418.0" x2="775.5" y2="432.6" stroke="#737375" stroke-width="1"/>
<rect x="773.5" y="429.5" width="4" height="2" fill="#4caf50" stroke="#1c5230" stroke-width="1"/>
<line x1="781.5" y1="420.1" x2="781.5" y2="437.8" stroke="#737375" stroke-width="1"/>
<rect x="779.5" y="429.5" width="4" height="5" fill="#de5a46" stroke="#5c1a12" stroke-width="1"/>
<line x1="787.5" y1="414.4" x2="787.5" y2="445.0" stroke="#737375" stroke-width="1"/>
<rect x="785.5" y="431.5" width="4" height="3" fill="#4caf50" stroke="#1c5230" stroke-width="1"/>
<line x1="792.5" y1="399.0" x2="792.5" y2="431.4" stroke="#737375" stroke-width="1"/>
<rect x="790.5" y="411.5" width="4" height="19" fill="#4caf50" stroke="#1c5230" stroke-width="1"/>
<line x1="798.5" y1="402.1" x2="798.5" y2="413.4" stroke="#737375" stroke-width="1"/>
<rect x="796.5" y="407.5" width="4" height="3" fill="#4caf50" stroke="#1c5230" stroke-width="1"/>
<line x1="804.5" y1="405.2" x2="804.5" y2="433.6" stroke="#737375" stroke-width="1"/>
<rect x="802.5" y="406.5" width="4" height="25" fill="#de5a46" stroke="#5c1a12" stroke-width="1"/>
<line x1="810.5" y1="426.4" x2="810.5" y2="454.6" stroke="#737375" stroke-width="1"/>
<rect x="808.5" y="432.5" width="4" height="19" fill="#de5a46" stroke="#5c1a12" stroke-width="1"/>
<line x1="816.5" y1="436.3" x2="816.5" y2="451.6" stroke="#737375" stroke-width="1"/>
<rect x="814.5" y="436.5" width="4" height="15" fill="#4caf50" stroke="#1c5230" stroke-width="1"/>
<line x1="822.5" y1="420.0" x2="822.5" y2="437.8" stroke="#737375" stroke-width="1"/>
<rect x="820.5" y="430.5" width="4" height="6" fill="#4caf50" stroke="#1c5230" stroke-width="1"/>
<line x1="828.5" y1="427.2" x2="828.5" y2="441.6" stroke="#737375" stroke-width="1"/>
<rect x="826.5" y="430.5" width="4" height="7" fill="#de5a46" stroke="#5c1a12" stroke-width="1"/>
<line x1="833.5" y1="422.2" x2="833.5" y2="438.4" stroke="#737375" stroke-width="1"/>
<rect x="831.5" y="430.5" width="4" height="7" fill="#4caf50" stroke="#1c5230" stroke-width="1"/>
<line x1="839.5" y1="423.1" x2="839.5" y2="446.8" stroke="#737375" stroke-width="1"/>
<rect x="837.5" y="430.5" width="4" height="13" fill="#de5a46" stroke="#5c1a12" stroke-width="1"/>
<line x1="845.5" y1="434.2" x2="845.5" y2="447.6" stroke="#737375" stroke-width="1"/>
<rect x="843.5" y="438.5" width="4" height="5" fill="#4caf50" stroke="#1c5230" stroke-width="1"/>
<line x1="851.5" y1="432.0" x2="851.5" y2="441.6" stroke="#737375" stroke-width="1"/>
<rect x="849.5" y="438.5" width="4" height="2" fill="#de5a46" stroke="#5c1a12" stroke-width="1"/>
<line x1="857.5" y1="422.2" x2="857.5" y2="440.4" stroke="#737375" stroke-width="1"/>
<rect x="855.5" y="426.5" width="4" height="13" fill="#4caf50" stroke="#1c5230" stroke-width="1"/>
<line x1="863.5" y1="412.0" x2="863.5" y2="429.6" stroke="#737375" stroke-width="1"/>
<rect x="861.5" y="423.5" width="4" height="3" fill="#4caf50" stroke="#1c5230" stroke-width="1"/>
<line x1="869.5" y1="405.2" x2="869.5" y2="427.6" stroke="#737375" stroke-width="1"/>
<rect x="867.5" y="421.5" width="4" height="2" fill="#4caf50" stroke="#1c5230" stroke-width="1"/>
<line x1="874.5" y1="396.0" x2="874.5" y2="428.4" stroke="#737375" stroke-width="1"/>
<rect x="872.5" y="406.5" width="4" height="13" fill="#4caf50" stroke="#1c5230" stroke-width="1"/>
<line x1="880.5" y1="403.0" x2="880.5" y2="430.6" stroke="#737375" stroke-width="1"/>
<rect x="878.5" y="406.5" width="4" height="13" fill="#de5a46" stroke="#5c1a12" stroke-width="1"/>
<line x1="886.5" y1="418.0" x2="886.5" y2="442.8" stroke="#737375" stroke-width="1"/>
<rect x="884.5" y="420.5" width="4" height="13" fill="#de5a46" stroke="#5c1a12" stroke-width="1"/>
<line x1="892.5" y1="421.0" x2="892.5" y2="435.6" stroke="#737375" stroke-width="1"/>
<rect x="890.5" y="424.5" width="4" height="9" fill="#4caf50" stroke="#1c5230" stroke-width="1"/>
<line x1="898.5" y1="416.0" x2="898.5" y2="427.6" stroke="#737375" stroke-width="1"/>
<rect x="896" y="424" width="5" height="1.2" fill="#5c1a12"/>
<line x1="904.5" y1="421.2" x2="904.5" y2="437.6" stroke="#737375" stroke-width="1"/>
<rect x="902" y="425" width="5" height="1.2" fill="#5c1a12"/>
<line x1="909.5" y1="422.4" x2="909.5" y2="437.6" stroke="#737375" stroke-width="1"/>
<rect x="907.5" y="426.5" width="4" height="9" fill="#de5a46" stroke="#5c1a12" stroke-width="1"/>
<line x1="915.5" y1="431.1" x2="915.5" y2="445.8" stroke="#737375" stroke-width="1"/>
<rect x="913.5" y="434.5" width="4" height="5" fill="#de5a46" stroke="#5c1a12" stroke-width="1"/>
<line x1="921.5" y1="426.3" x2="921.5" y2="465.6" stroke="#737375" stroke-width="1"/>
<rect x="919.5" y="440.5" width="4" height="23" fill="#de5a46" stroke="#5c1a12" stroke-width="1"/>
<line x1="927.5" y1="461.1" x2="927.5" y2="471.6" stroke="#737375" stroke-width="1"/>
<rect x="925" y="464" width="5" height="1.2" fill="#5c1a12"/>
<line x1="933.5" y1="449.4" x2="933.5" y2="465.6" stroke="#737375" stroke-width="1"/>
<rect x="931.5" y="453.5" width="4" height="12" fill="#4caf50" stroke="#1c5230" stroke-width="1"/>
<line x1="939.5" y1="443.4" x2="939.5" y2="461.6" stroke="#737375" stroke-width="1"/>
<rect x="937.5" y="446.5" width="4" height="7" fill="#4caf50" stroke="#1c5230" stroke-width="1"/>
<line x1="945.5" y1="436.4" x2="945.5" y2="446.7" stroke="#737375" stroke-width="1"/>
<rect x="943.5" y="440.5" width="4" height="5" fill="#4caf50" stroke="#1c5230" stroke-width="1"/>
<line x1="950.5" y1="428.4" x2="950.5" y2="443.6" stroke="#737375" stroke-width="1"/>
<rect x="948.5" y="436.5" width="4" height="3" fill="#4caf50" stroke="#1c5230" stroke-width="1"/>
<line x1="956.5" y1="427.2" x2="956.5" y2="437.6" stroke="#737375" stroke-width="1"/>
<rect x="954.5" y="433.5" width="4" height="2" fill="#4caf50" stroke="#1c5230" stroke-width="1"/>
<line x1="962.5" y1="425.4" x2="962.5" y2="438.6" stroke="#737375" stroke-width="1"/>
<rect x="960.5" y="433.5" width="4" height="2" fill="#de5a46" stroke="#5c1a12" stroke-width="1"/>
<line x1="968.5" y1="418.2" x2="968.5" y2="441.6" stroke="#737375" stroke-width="1"/>
<rect x="966.5" y="424.5" width="4" height="11" fill="#4caf50" stroke="#1c5230" stroke-width="1"/>
<line x1="974.5" y1="423.6" x2="974.5" y2="433.5" stroke="#737375" stroke-width="1"/>
<rect x="972.5" y="424.5" width="4" height="3" fill="#de5a46" stroke="#5c1a12" stroke-width="1"/>
<line x1="980.5" y1="420.3" x2="980.5" y2="429.6" stroke="#737375" stroke-width="1"/>
<rect x="978" y="428" width="5" height="1.2" fill="#5c1a12"/>
<line x1="986.5" y1="422.4" x2="986.5" y2="433.5" stroke="#737375" stroke-width="1"/>
<rect x="984.5" y="426.5" width="4" height="3" fill="#4caf50" stroke="#1c5230" stroke-width="1"/>
<line x1="991.5" y1="410.4" x2="991.5" y2="430.4" stroke="#737375" stroke-width="1"/>
<rect x="989.5" y="416.5" width="4" height="8" fill="#4caf50" stroke="#1c5230" stroke-width="1"/>
<line x1="997.5" y1="374.8" x2="997.5" y2="420.6" stroke="#737375" stroke-width="1"/>
<rect x="995.5" y="380.5" width="4" height="35" fill="#4caf50" stroke="#1c5230" stroke-width="1"/>
<line x1="1003.5" y1="345.2" x2="1003.5" y2="382.6" stroke="#737375" stroke-width="1"/>
<rect x="1001.5" y="350.5" width="4" height="30" fill="#4caf50" stroke="#1c5230" stroke-width="1"/>
<line x1="1009.5" y1="325.0" x2="1009.5" y2="353.5" stroke="#737375" stroke-width="1"/>
<rect x="1007.5" y="338.5" width="4" height="12" fill="#4caf50" stroke="#1c5230" stroke-width="1"/>
<line x1="1015.5" y1="315.2" x2="1015.5" y2="341.7" stroke="#737375" stroke-width="1"/>
<rect x="1013.5" y="319.5" width="4" height="18" fill="#4caf50" stroke="#1c5230" stroke-width="1"/>
<line x1="1021.5" y1="303.1" x2="1021.5" y2="321.5" stroke="#737375" stroke-width="1"/>
<rect x="1019.5" y="308.5" width="4" height="11" fill="#4caf50" stroke="#1c5230" stroke-width="1"/>
<line x1="1026.5" y1="278.4" x2="1026.5" y2="312.6" stroke="#737375" stroke-width="1"/>
<rect x="1024.5" y="290.5" width="4" height="17" fill="#4caf50" stroke="#1c5230" stroke-width="1"/>
<line x1="1032.5" y1="281.2" x2="1032.5" y2="293.7" stroke="#737375" stroke-width="1"/>
<rect x="1030.5" y="288.5" width="4" height="2" fill="#4caf50" stroke="#1c5230" stroke-width="1"/>
<line x1="1038.5" y1="285.5" x2="1038.5" y2="315.6" stroke="#737375" stroke-width="1"/>
<rect x="1036.5" y="288.5" width="4" height="21" fill="#de5a46" stroke="#5c1a12" stroke-width="1"/>
<line x1="1044.5" y1="289.2" x2="1044.5" y2="311.9" stroke="#737375" stroke-width="1"/>
<rect x="1042.5" y="294.5" width="4" height="15" fill="#4caf50" stroke="#1c5230" stroke-width="1"/>
<line x1="1050.5" y1="292.2" x2="1050.5" y2="313.5" stroke="#737375" stroke-width="1"/>
<rect x="1048.5" y="295.5" width="4" height="10" fill="#de5a46" stroke="#5c1a12" stroke-width="1"/>
<line x1="1056.5" y1="296.3" x2="1056.5" y2="313.4" stroke="#737375" stroke-width="1"/>
<rect x="1054.5" y="307.5" width="4" height="5" fill="#de5a46" stroke="#5c1a12" stroke-width="1"/>
<line x1="1062.5" y1="304.3" x2="1062.5" y2="320.0" stroke="#737375" stroke-width="1"/>
<rect x="1060.5" y="308.5" width="4" height="3" fill="#4caf50" stroke="#1c5230" stroke-width="1"/>
<line x1="1067.5" y1="305.2" x2="1067.5" y2="320.0" stroke="#737375" stroke-width="1"/>
<rect x="1065.5" y="308.5" width="4" height="2" fill="#de5a46" stroke="#5c1a12" stroke-width="1"/>
<line x1="1073.5" y1="281.2" x2="1073.5" y2="316.7" stroke="#737375" stroke-width="1"/>
<rect x="1071.5" y="284.5" width="4" height="25" fill="#4caf50" stroke="#1c5230" stroke-width="1"/>
<line x1="1079.5" y1="265.0" x2="1079.5" y2="301.6" stroke="#737375" stroke-width="1"/>
<rect x="1077.5" y="283.5" width="4" height="4" fill="#de5a46" stroke="#5c1a12" stroke-width="1"/>
<line x1="1085.5" y1="283.4" x2="1085.5" y2="309.4" stroke="#737375" stroke-width="1"/>
<rect x="1083.5" y="288.5" width="4" height="14" fill="#de5a46" stroke="#5c1a12" stroke-width="1"/>
<line x1="1091.5" y1="288.1" x2="1091.5" y2="303.2" stroke="#737375" stroke-width="1"/>
<rect x="1089.5" y="297.5" width="4" height="5" fill="#4caf50" stroke="#1c5230" stroke-width="1"/>
<line x1="1097.5" y1="270.4" x2="1097.5" y2="299.4" stroke="#737375" stroke-width="1"/>
<rect x="1095.5" y="292.5" width="4" height="5" fill="#4caf50" stroke="#1c5230" stroke-width="1"/>
<line x1="1103.5" y1="272.9" x2="1103.5" y2="294.9" stroke="#737375" stroke-width="1"/>
<rect x="1101.5" y="276.5" width="4" height="15" fill="#4caf50" stroke="#1c5230" stroke-width="1"/>
<line x1="1108.5" y1="237.1" x2="1108.5" y2="282.0" stroke="#737375" stroke-width="1"/>
<rect x="1106.5" y="241.5" width="4" height="34" fill="#4caf50" stroke="#1c5230" stroke-width="1"/>
<line x1="1114.5" y1="238.0" x2="1114.5" y2="241.0" stroke="#737375" stroke-width="1"/>
<rect x="1112" y="239" width="5" height="1.2" fill="#1c5230"/>
<line x1="1120.5" y1="209.2" x2="1120.5" y2="243.9" stroke="#737375" stroke-width="1"/>
<rect x="1118.5" y="224.5" width="4" height="16" fill="#4caf50" stroke="#1c5230" stroke-width="1"/>
<line x1="1126.5" y1="196.3" x2="1126.5" y2="226.9" stroke="#737375" stroke-width="1"/>
<rect x="1124.5" y="197.5" width="4" height="26" fill="#4caf50" stroke="#1c5230" stroke-width="1"/>
<line x1="1132.5" y1="175.9" x2="1132.5" y2="209.2" stroke="#737375" stroke-width="1"/>
<rect x="1130.5" y="179.5" width="4" height="15" fill="#4caf50" stroke="#1c5230" stroke-width="1"/>
<line x1="1138.5" y1="171.8" x2="1138.5" y2="195.3" stroke="#737375" stroke-width="1"/>
<rect x="1136.5" y="177.5" width="4" height="10" fill="#de5a46" stroke="#5c1a12" stroke-width="1"/>
<line x1="1144.5" y1="149.4" x2="1144.5" y2="207.1" stroke="#737375" stroke-width="1"/>
<rect x="1142.5" y="150.5" width="4" height="35" fill="#4caf50" stroke="#1c5230" stroke-width="1"/>
<line x1="1149.5" y1="126.9" x2="1149.5" y2="173.9" stroke="#737375" stroke-width="1"/>
<rect x="1147.5" y="142.5" width="4" height="7" fill="#4caf50" stroke="#1c5230" stroke-width="1"/>
<line x1="1155.5" y1="116.1" x2="1155.5" y2="143.1" stroke="#737375" stroke-width="1"/>
<rect x="1153.5" y="128.5" width="4" height="13" fill="#4caf50" stroke="#1c5230" stroke-width="1"/>
<line x1="1161.5" y1="121.5" x2="1161.5" y2="158.8" stroke="#737375" stroke-width="1"/>
<rect x="1159.5" y="128.5" width="4" height="19" fill="#de5a46" stroke="#5c1a12" stroke-width="1"/>
<line x1="1167.5" y1="105.3" x2="1167.5" y2="153.0" stroke="#737375" stroke-width="1"/>
<rect x="1165.5" y="110.5" width="4" height="37" fill="#4caf50" stroke="#1c5230" stroke-width="1"/>
<line x1="1173.5" y1="54.0" x2="1173.5" y2="145.4" stroke="#737375" stroke-width="1"/>
<rect x="1171.5" y="110.5" width="4" height="27" fill="#de5a46" stroke="#5c1a12" stroke-width="1"/>
<line x1="1179.5" y1="96.3" x2="1179.5" y2="153.9" stroke="#737375" stroke-width="1"/>
<rect x="1177.5" y="100.5" width="4" height="37" fill="#4caf50" stroke="#1c5230" stroke-width="1"/>
<line x1="1184.5" y1="86.0" x2="1184.5" y2="117.9" stroke="#737375" stroke-width="1"/>
<rect x="1182" y="100" width="5" height="1.2" fill="#1c5230"/>
<line x1="1190.5" y1="88.2" x2="1190.5" y2="125.6" stroke="#737375" stroke-width="1"/>
<rect x="1188.5" y="101.5" width="4" height="20" fill="#de5a46" stroke="#5c1a12" stroke-width="1"/>
<line x1="1196.5" y1="90.9" x2="1196.5" y2="120.6" stroke="#737375" stroke-width="1"/>
<rect x="1194.5" y="104.5" width="4" height="16" fill="#4caf50" stroke="#1c5230" stroke-width="1"/>
<line x1="1202.5" y1="67.0" x2="1202.5" y2="108.9" stroke="#737375" stroke-width="1"/>
<rect x="1200.5" y="92.5" width="4" height="11" fill="#4caf50" stroke="#1c5230" stroke-width="1"/>
<line x1="1208.5" y1="91.4" x2="1208.5" y2="153.5" stroke="#737375" stroke-width="1"/>
<rect x="1206.5" y="91.5" width="4" height="62" fill="#de5a46" stroke="#5c1a12" stroke-width="1"/>
<line x1="1214.5" y1="144.9" x2="1214.5" y2="184.5" stroke="#737375" stroke-width="1"/>
<rect x="1212.5" y="152.5" width="4" height="5" fill="#de5a46" stroke="#5c1a12" stroke-width="1"/>
<line x1="1220.5" y1="142.1" x2="1220.5" y2="165.9" stroke="#737375" stroke-width="1"/>
<rect x="1218.5" y="157.5" width="4" height="6" fill="#de5a46" stroke="#5c1a12" stroke-width="1"/>
<line x1="1225.5" y1="135.1" x2="1225.5" y2="171.8" stroke="#737375" stroke-width="1"/>
<rect x="1223.5" y="148.5" width="4" height="15" fill="#4caf50" stroke="#1c5230" stroke-width="1"/>
<line x1="1231.5" y1="128.3" x2="1231.5" y2="152.0" stroke="#737375" stroke-width="1"/>
<rect x="1229.5" y="142.5" width="4" height="4" fill="#4caf50" stroke="#1c5230" stroke-width="1"/>
<line x1="1237.5" y1="134.2" x2="1237.5" y2="157.5" stroke="#737375" stroke-width="1"/>
<rect x="1235.5" y="142.5" width="4" height="2" fill="#de5a46" stroke="#5c1a12" stroke-width="1"/>
<line x1="1243.5" y1="144.1" x2="1243.5" y2="191.6" stroke="#737375" stroke-width="1"/>
<rect x="1241.5" y="144.5" width="4" height="47" fill="#de5a46" stroke="#5c1a12" stroke-width="1"/>
<line x1="1249.5" y1="151.3" x2="1249.5" y2="193.6" stroke="#737375" stroke-width="1"/>
<rect x="1247.5" y="159.5" width="4" height="31" fill="#4caf50" stroke="#1c5230" stroke-width="1"/>
<line x1="1255.5" y1="152.7" x2="1255.5" y2="190.9" stroke="#737375" stroke-width="1"/>
<rect x="1253.5" y="159.5" width="4" height="16" fill="#de5a46" stroke="#5c1a12" stroke-width="1"/>
<line x1="1261.5" y1="158.3" x2="1261.5" y2="197.5" stroke="#737375" stroke-width="1"/>
<rect x="1259" y="174" width="5" height="1.2" fill="#5c1a12"/>
<line x1="1266.5" y1="147.4" x2="1266.5" y2="184.7" stroke="#737375" stroke-width="1"/>
<rect x="1264.5" y="153.5" width="4" height="22" fill="#4caf50" stroke="#1c5230" stroke-width="1"/>
<line x1="1272.5" y1="149.1" x2="1272.5" y2="167.6" stroke="#737375" stroke-width="1"/>
<rect x="1270.5" y="153.5" width="4" height="10" fill="#de5a46" stroke="#5c1a12" stroke-width="1"/>
<line x1="1278.5" y1="157.3" x2="1278.5" y2="173.8" stroke="#737375" stroke-width="1"/>
<rect x="1276.5" y="164.5" width="4" height="5" fill="#de5a46" stroke="#5c1a12" stroke-width="1"/>
<line x1="1284.5" y1="132.9" x2="1284.5" y2="170.7" stroke="#737375" stroke-width="1"/>
<rect x="1282.5" y="136.5" width="4" height="33" fill="#4caf50" stroke="#1c5230" stroke-width="1"/>
<line x1="1290.5" y1="103.9" x2="1290.5" y2="136.4" stroke="#737375" stroke-width="1"/>
<rect x="1288.5" y="121.5" width="4" height="12" fill="#4caf50" stroke="#1c5230" stroke-width="1"/>
<line x1="1296.5" y1="117.0" x2="1296.5" y2="146.7" stroke="#737375" stroke-width="1"/>
<rect x="1294.5" y="121.5" width="4" height="21" fill="#de5a46" stroke="#5c1a12" stroke-width="1"/>
<line x1="1301.5" y1="123.2" x2="1301.5" y2="144.1" stroke="#737375" stroke-width="1"/>
<rect x="1299.5" y="123.5" width="4" height="20" fill="#4caf50" stroke="#1c5230" stroke-width="1"/>
<line x1="1307.5" y1="93.0" x2="1307.5" y2="128.8" stroke="#737375" stroke-width="1"/>
<rect x="1305.5" y="97.5" width="4" height="26" fill="#4caf50" stroke="#1c5230" stroke-width="1"/>
<line x1="1313.5" y1="86.2" x2="1313.5" y2="110.5" stroke="#737375" stroke-width="1"/>
<rect x="1311.5" y="97.5" width="4" height="8" fill="#de5a46" stroke="#5c1a12" stroke-width="1"/>
<line x1="1319.5" y1="63.2" x2="1319.5" y2="107.5" stroke="#737375" stroke-width="1"/>
<rect x="1317.5" y="70.5" width="4" height="36" fill="#4caf50" stroke="#1c5230" stroke-width="1"/>
<line x1="1325.5" y1="37.0" x2="1325.5" y2="76.6" stroke="#737375" stroke-width="1"/>
<rect x="1323.5" y="61.5" width="4" height="9" fill="#4caf50" stroke="#1c5230" stroke-width="1"/>
<line x1="1331.5" y1="52.1" x2="1331.5" y2="77.8" stroke="#737375" stroke-width="1"/>
<rect x="1329.5" y="59.5" width="4" height="5" fill="#de5a46" stroke="#5c1a12" stroke-width="1"/>
<line x1="1337.5" y1="59.4" x2="1337.5" y2="106.3" stroke="#737375" stroke-width="1"/>
<rect x="1335.5" y="65.5" width="4" height="38" fill="#de5a46" stroke="#5c1a12" stroke-width="1"/>
<line x1="1342.5" y1="98.8" x2="1342.5" y2="151.6" stroke="#737375" stroke-width="1"/>
<rect x="1340.5" y="103.5" width="4" height="46" fill="#de5a46" stroke="#5c1a12" stroke-width="1"/>
<line x1="1348.5" y1="132.7" x2="1348.5" y2="150.5" stroke="#737375" stroke-width="1"/>
<rect x="1346.5" y="146.5" width="4" height="3" fill="#4caf50" stroke="#1c5230" stroke-width="1"/>
<line x1="1354.5" y1="123.1" x2="1354.5" y2="146.1" stroke="#737375" stroke-width="1"/>
<rect x="1352.5" y="130.5" width="4" height="15" fill="#4caf50" stroke="#1c5230" stroke-width="1"/>
<line x1="1360.5" y1="116.9" x2="1360.5" y2="139.4" stroke="#737375" stroke-width="1"/>
<rect x="1358.5" y="121.5" width="4" height="7" fill="#4caf50" stroke="#1c5230" stroke-width="1"/>
<line x1="1366.5" y1="118.9" x2="1366.5" y2="144.4" stroke="#737375" stroke-width="1"/>
<rect x="1364.5" y="121.5" width="4" height="20" fill="#de5a46" stroke="#5c1a12" stroke-width="1"/>
<line x1="1372.5" y1="129.0" x2="1372.5" y2="155.0" stroke="#737375" stroke-width="1"/>
<rect x="1370.5" y="136.5" width="4" height="5" fill="#4caf50" stroke="#1c5230" stroke-width="1"/>
<line x1="1378.5" y1="121.4" x2="1378.5" y2="157.5" stroke="#737375" stroke-width="1"/>
<rect x="1376.5" y="136.5" width="4" height="15" fill="#de5a46" stroke="#5c1a12" stroke-width="1"/>
<rect x="-2.1" y="-2.1" width="4.2" height="4.2" fill="#000" transform="translate(1028.20 276.60) rotate(34)"/>
<rect x="-2.1" y="-2.1" width="4.2" height="4.2" fill="#000" transform="translate(1038.10 283.32) rotate(34)"/>
<rect x="-2.1" y="-2.1" width="4.2" height="4.2" fill="#000" transform="translate(1048.00 290.04) rotate(34)"/>
<rect x="-2.1" y="-2.1" width="4.2" height="4.2" fill="#000" transform="translate(1057.90 296.76) rotate(34)"/>
<rect x="-2.1" y="-2.1" width="4.2" height="4.2" fill="#000" transform="translate(1067.80 303.48) rotate(34)"/>
<rect x="-2.1" y="-2.1" width="4.2" height="4.2" fill="#000" transform="translate(1022.40 323.00) rotate(-16)"/>
<rect x="-2.1" y="-2.1" width="4.2" height="4.2" fill="#000" transform="translate(1033.95 319.75) rotate(-16)"/>
<rect x="-2.1" y="-2.1" width="4.2" height="4.2" fill="#000" transform="translate(1045.50 316.50) rotate(-16)"/>
<rect x="-2.1" y="-2.1" width="4.2" height="4.2" fill="#000" transform="translate(1057.05 313.25) rotate(-16)"/>
<rect x="-2.1" y="-2.1" width="4.2" height="4.2" fill="#000" transform="translate(1068.60 310.00) rotate(-16)"/>
</g><g clip-path="url(#cp2)">
<polyline points="4.0,692.6 20.0,693.9 40.0,695.9 60.0,696.5 80.0,697.5 83.0,695.2 106.0,694.5 126.0,696.5 146.0,697.2 166.0,698.9 186.0,700.2 206.0,700.9 219.0,700.2 232.0,701.5 259.0,704.2 285.5,705.8 305.4,706.8 318.7,705.8 332.0,706.5 342.0,704.2 355.0,700.2 375.0,699.5 388.4,697.5 405.0,698.2 413.3,692.9 425.0,692.6 435.0,690.2 451.5,689.6 471.5,688.9 484.7,689.6 490.0,689.2 510.0,691.6 530.0,691.6 540.0,690.2 553.0,689.6 566.0,690.9 576.0,689.9 589.6,692.9 599.6,692.6 611.0,693.6 617.8,690.9 623.5,681.6 639.4,683.3 652.7,682.3 662.6,680.9 676.0,681.6 689.2,683.3 702.5,685.6 712.4,688.2 732.4,688.9 740.7,692.2 752.3,690.6 759.0,690.9 765.6,689.2 782.0,690.2 792.0,688.6 808.7,688.2 822.0,689.2 835.3,690.6 848.6,692.2 865.0,692.6 875.0,690.6 885.0,689.9 898.4,691.6 915.0,693.2 921.6,691.2 935.0,692.6 948.0,694.2 961.5,695.9 968.0,695.2 981.4,697.2 990.0,697.9 1000.0,693.2 1013.2,690.6 1023.2,690.2 1026.5,688.9 1033.0,689.6 1043.0,688.6 1053.0,688.9 1066.3,690.6 1079.6,686.6 1093.0,686.9 1102.8,686.2 1107.8,684.6 1114.5,686.6 1126.0,685.3 1139.4,684.3 1149.3,680.3 1166.0,678.6 1176.0,673.3 1185.8,672.0 1199.0,672.6 1210.7,670.6 1225.7,671.6 1239.0,673.3 1252.2,672.0 1265.5,671.6 1278.8,674.3 1295.4,674.6 1312.0,676.0 1328.6,675.3 1342.0,673.3 1358.5,675.6 1377.4,676.6" fill="none" stroke="#c62828" stroke-width="1" stroke-linejoin="round"/>
<polyline points="4.2,765.9 8.1,765.9 13.9,758.5 19.8,744.5 25.6,739.4 31.4,740.3 38.3,742.6 43.0,734.7 53.5,741.7 61.6,749.9 67.4,752.6 73.2,752.6 79.0,749.9 84.8,756.1 90.6,757.3 95.7,754.3 102.3,760.8 108.0,768.9 113.9,775.2 119.7,774.0 125.5,777.0 131.3,783.5 137.1,785.2 148.7,780.5 158.0,779.8 167.3,780.5 174.3,779.8 181.3,777.5 189.4,773.6 197.5,765.0 202.2,763.1 206.8,764.3 212.6,759.6 224.3,742.6 232.4,743.3 241.7,745.7 253.3,758.5 260.3,758.9 270.7,757.8 282.4,766.6 289.3,769.6 301.0,754.5 312.6,752.2 317.9,765.0 323.0,763.6 330.0,768.9 335.8,779.4 341.6,795.6 347.4,798.7 348.1,799.1 354.0,794.2 358.6,795.2 364.4,790.5 371.4,784.0 383.0,776.6 388.8,769.1 394.6,766.8 400.4,763.8 406.2,762.2 412.0,752.9 417.9,750.3 423.7,749.2 429.5,744.0 435.3,740.6 441.1,738.9 446.9,743.3 452.7,746.1 464.3,747.3 470.1,746.8 479.4,749.2 487.6,752.2 493.4,752.2 499.2,751.2 505.0,753.8 512.0,758.9 516.6,763.6 522.4,766.6 528.7,773.6 534.8,776.6 541.0,770.1 546.4,767.7 552.0,760.8 558.0,754.3 563.6,759.6 569.6,748.7 581.7,751.0 587.5,748.0 593.3,741.7 599.1,734.5 605.0,734.5 610.7,740.6 616.6,737.1 622.4,739.9 628.6,753.1 639.8,753.3 646.3,759.6 651.9,767.7 657.2,770.5 663.5,761.9 670.0,752.6 675.1,756.6 680.5,758.0 687.0,753.8 692.8,755.4 698.6,752.6 705.1,745.2 710.7,748.0 716.0,744.0 721.8,741.3 727.6,744.5 733.5,747.5 745.0,748.7 750.9,758.0 756.7,759.4 762.5,759.6 768.8,767.3 775.3,769.1 781.1,773.1 786.9,771.9 792.0,761.5 798.0,758.5 810.1,784.0 816.0,779.4 821.8,770.8 827.6,773.1 833.4,769.1 840.4,772.9 845.5,773.6 851.5,771.9 857.1,764.3 863.6,754.3 868.7,750.3 874.0,742.6 879.9,750.3 885.7,765.0 892.0,760.1 898.0,756.6 903.6,761.5 908.9,765.0 915.2,772.4 921.2,784.7 926.8,794.5 932.8,782.4 939.1,774.0 944.9,766.6 950.7,761.5 956.6,759.6 962.4,759.8 968.2,756.6 974.0,756.6 980.3,754.7 986.3,754.3 991.4,746.4 997.2,725.5 1003.0,715.5 1008.8,720.8 1014.6,728.7 1020.5,734.0 1031.6,740.3 1038.6,746.1 1044.4,747.3 1050.2,749.6 1059.5,752.2 1066.5,753.3 1078.1,749.4 1085.0,753.3 1090.9,753.3 1102.5,748.7 1108.3,737.5 1114.1,731.0 1121.1,729.4 1126.9,730.1 1132.7,732.4 1138.5,737.5 1145.5,739.2 1154.8,739.9 1160.6,744.5 1171.1,744.5 1179.2,746.8 1185.0,746.8 1190.8,749.2 1201.3,748.0 1214.0,761.2 1224.5,761.5 1231.5,760.1 1237.3,763.6 1243.1,774.7 1248.9,773.1 1254.7,775.2 1260.5,777.0 1266.3,770.1 1272.1,768.9 1278.0,769.6 1283.8,762.0 1289.6,752.6 1295.4,757.3 1301.2,753.8 1307.0,743.3 1312.8,741.7 1318.6,733.4 1324.4,732.0 1330.2,739.4 1336.5,748.7 1341.9,760.8 1347.7,764.3 1353.5,762.0 1359.3,760.8 1365.1,763.6 1370.0,765.0 1377.5,768.2" fill="none" stroke="#2962ff" stroke-width="1.2" stroke-linejoin="round"/>
</g>
<g fill="#131722"><polygon points="16.1,776.1 27.8,776.1 27.8,790.7 22.2,790.7 22.2,781.7 16.1,781.7"/><circle cx="33.1" cy="778.9" r="2.8"/><polygon points="39.3,776.1 45.7,776.1 39.8,790.7 33.2,790.7"/></g>
<rect x="1440" y="4" width="63" height="829" fill="#fff"/>
<rect x="4" y="806" width="1435" height="27" fill="#fff"/>
<line x1="1439.5" y1="4" x2="1439.5" y2="833" stroke="#50535e" stroke-width="1"/>
<line x1="1439" y1="668.5" x2="1503" y2="668.5" stroke="#e0e3eb" stroke-width="1"/>
<line x1="1439" y1="710.5" x2="1503" y2="710.5" stroke="#e0e3eb" stroke-width="1"/>
<line x1="4" y1="805.5" x2="1439" y2="805.5" stroke="#50535e" stroke-width="1.2"/>
<text transform="translate(1447 50.28) scale(1 1.1)" font-family="Liberation Sans, sans-serif" font-size="12" fill="#50535e">2,440.00</text>
<text transform="translate(1447 87.28) scale(1 1.1)" font-family="Liberation Sans, sans-serif" font-size="12" fill="#50535e">2,400.00</text>
<text transform="translate(1447 124.28) scale(1 1.1)" font-family="Liberation Sans, sans-serif" font-size="12" fill="#50535e">2,360.00</text>
<text transform="translate(1447 162.28) scale(1 1.1)" font-family="Liberation Sans, sans-serif" font-size="12" fill="#50535e">2,320.00</text>
<text transform="translate(1447 199.28) scale(1 1.1)" font-family="Liberation Sans, sans-serif" font-size="12" fill="#50535e">2,280.00</text>
<text transform="translate(1447 236.28) scale(1 1.1)" font-family="Liberation Sans, sans-serif" font-size="12" fill="#50535e">2,240.00</text>
<text transform="translate(1447 274.28) scale(1 1.1)" font-family="Liberation Sans, sans-serif" font-size="12" fill="#50535e">2,200.00</text>
<text transform="translate(1447 311.28) scale(1 1.1)" font-family="Liberation Sans, sans-serif" font-size="12" fill="#50535e">2,160.00</text>
<text transform="translate(1447 348.28) scale(1 1.1)" font-family="Liberation Sans, sans-serif" font-size="12" fill="#50535e">2,120.00</text>
<text transform="translate(1447 385.28) scale(1 1.1)" font-family="Liberation Sans, sans-serif" font-size="12" fill="#50535e">2,080.00</text>
<text transform="translate(1447 423.28) scale(1 1.1)" font-family="Liberation Sans, sans-serif" font-size="12" fill="#50535e">2,040.00</text>
<text transform="translate(1447 460.28) scale(1 1.1)" font-family="Liberation Sans, sans-serif" font-size="12" fill="#50535e">2,000.00</text>
<text transform="translate(1447 497.28) scale(1 1.1)" font-family="Liberation Sans, sans-serif" font-size="12" fill="#50535e">1,960.00</text>
<text transform="translate(1447 535.28) scale(1 1.1)" font-family="Liberation Sans, sans-serif" font-size="12" fill="#50535e">1,920.00</text>
<text transform="translate(1447 572.28) scale(1 1.1)" font-family="Liberation Sans, sans-serif" font-size="12" fill="#50535e">1,880.00</text>
<text transform="translate(1447 609.28) scale(1 1.1)" font-family="Liberation Sans, sans-serif" font-size="12" fill="#50535e">1,840.00</text>
<text transform="translate(1447 647.28) scale(1 1.1)" font-family="Liberation Sans, sans-serif" font-size="12" fill="#50535e">1,800.00</text>
<text transform="translate(1447 692.63) scale(1 1.1)" font-family="Liberation Sans, sans-serif" font-size="12" fill="#50535e">25.00</text>
<text transform="translate(1447 732.03) scale(1 1.1)" font-family="Liberation Sans, sans-serif" font-size="12" fill="#50535e">250.00</text>
<text transform="translate(1447 765.73) scale(1 1.1)" font-family="Liberation Sans, sans-serif" font-size="12" fill="#50535e">0.00</text>
<text transform="translate(1447 799.33) scale(1 1.1)" font-family="Liberation Sans, sans-serif" font-size="12" fill="#50535e">−250.00</text>
<path d="M1439 29.2 H1497.5 a1.5 1.5 0 0 1 1.5 1.5 V44.3 a1.5 1.5 0 0 1 -1.5 1.5 H1439 Z" fill="#000"/>
<text transform="translate(1447 40.90) scale(1 1.1)" font-family="Liberation Sans, sans-serif" font-size="12" font-weight="bold" fill="#fff">2,450.50</text>
<path d="M1439 187.1 H1497.5 a1.5 1.5 0 0 1 1.5 1.5 V202.2 a1.5 1.5 0 0 1 -1.5 1.5 H1439 Z" fill="#000"/>
<text transform="translate(1447 198.80) scale(1 1.1)" font-family="Liberation Sans, sans-serif" font-size="12" font-weight="bold" fill="#fff">2,280.57</text>
<path d="M1439 269.2 H1497.5 a1.5 1.5 0 0 1 1.5 1.5 V284.3 a1.5 1.5 0 0 1 -1.5 1.5 H1439 Z" fill="#000"/>
<text transform="translate(1447 280.90) scale(1 1.1)" font-family="Liberation Sans, sans-serif" font-size="12" font-weight="bold" fill="#fff">2,193.44</text>
<path d="M1439 312.0 H1497.5 a1.5 1.5 0 0 1 1.5 1.5 V327.1 a1.5 1.5 0 0 1 -1.5 1.5 H1439 Z" fill="#000"/>
<text transform="translate(1447 323.70) scale(1 1.1)" font-family="Liberation Sans, sans-serif" font-size="12" font-weight="bold" fill="#fff">2,147.28</text>
<path d="M1439 459.7 H1497.5 a1.5 1.5 0 0 1 1.5 1.5 V474.8 a1.5 1.5 0 0 1 -1.5 1.5 H1439 Z" fill="#000"/>
<text transform="translate(1447 471.40) scale(1 1.1)" font-family="Liberation Sans, sans-serif" font-size="12" font-weight="bold" fill="#fff">1,987.90</text>
<path d="M1439 476.9 H1497.5 a1.5 1.5 0 0 1 1.5 1.5 V492.0 a1.5 1.5 0 0 1 -1.5 1.5 H1439 Z" fill="#000"/>
<text transform="translate(1447 488.60) scale(1 1.1)" font-family="Liberation Sans, sans-serif" font-size="12" font-weight="bold" fill="#fff">1,972.75</text>
<path d="M1439 516.1 H1497.5 a1.5 1.5 0 0 1 1.5 1.5 V531.2 a1.5 1.5 0 0 1 -1.5 1.5 H1439 Z" fill="#000"/>
<text transform="translate(1447 527.80) scale(1 1.1)" font-family="Liberation Sans, sans-serif" font-size="12" font-weight="bold" fill="#fff">1,928.04</text>
<path d="M1439 625.9 H1497.5 a1.5 1.5 0 0 1 1.5 1.5 V641.0 a1.5 1.5 0 0 1 -1.5 1.5 H1439 Z" fill="#000"/>
<text transform="translate(1447 637.60) scale(1 1.1)" font-family="Liberation Sans, sans-serif" font-size="12" font-weight="bold" fill="#fff">1,810.48</text>
<rect x="1440" y="4" width="63" height="34" fill="#fff"/>
<rect x="1443.5" y="8.5" width="55" height="25" rx="5" fill="#fff" stroke="#e0e3eb"/>
<text x="1447.4" y="25" font-family="Liberation Sans, sans-serif" font-size="12.5" fill="#131722" textLength="20.5" lengthAdjust="spacingAndGlyphs">USD</text>
<path d="M1489 20.5 L1491.5 23 L1494 20.5" fill="none" stroke="#131722" stroke-width="1.1"/>
</svg>
<!-- legend -->
<svg width="1506" height="834" viewBox="0 0 1506 834" style="pointer-events:none">
<circle cx="21.95" cy="19.8" r="8.95" fill="#d59b03"/>
<g fill="#fff"><polygon points="19.9,15.8 23.8,15.8 25.1,18.9 18.9,18.9"/><polygon points="16.9,20.1 20.2,20.1 21.2,23 15.2,23"/><polygon points="23.5,20.1 27.3,20.1 29,23 22.8,23"/></g>
<rect x="8" y="36" width="168" height="24" fill="#fff" fill-opacity="0.5"/>
<rect x="12.5" y="36.5" width="61" height="22.5" rx="3.5" fill="#fff" stroke="#f23645"/>
<rect x="107.5" y="36.5" width="61" height="22.5" rx="3.5" fill="#fff" stroke="#2962ff"/>
<circle cx="304" cy="20" r="9" fill="#eeeef0"/>
<rect x="299" y="18" width="10" height="4" rx="2" fill="#9598a1"/>
<rect x="12" y="676" width="110" height="20" fill="#fff" fill-opacity="0.6"/>
<rect x="12" y="717" width="155" height="20" fill="#fff" fill-opacity="0.6"/>
<rect x="13.5" y="90.5" width="28" height="20" rx="4" fill="#fff" stroke="#e0e3eb"/>
<path d="M23.5 102.5 L27.5 98.5 L31.5 102.5" fill="none" stroke="#131722" stroke-width="1.1"/>
</svg>
<div class="t" style="left:35.6px;top:13px;font-size:14.8px;color:#55575f">CFDs on Gold (US$ / OZ) · 1D · TVC</div>
<div class="t" style="left:329.5px;top:13.3px;font-size:13px;word-spacing:0.8px;color:#7a2a26"><span style="color:#6a6d78">O</span>2,343.69 <span style="color:#6a6d78">H</span>2,359.74 <span style="color:#6a6d78">L</span>2,320.75 <span style="color:#6a6d78">C</span>2,326.97 −16.83 (−0.72%)</div>
<div class="t" style="left:20.5px;top:42.8px;font-size:12.5px;color:#f23645">2326.97</div>
<div class="t" style="left:82.3px;top:42.8px;font-size:11px;color:#2a2e39">115</div>
<div class="t" style="left:115.7px;top:42.8px;font-size:12.5px;color:#2962ff">2328.12</div>
<div class="t" style="left:13px;top:71px;font-size:12.1px;color:#55575f">MA Ribbon SMA close 20 SMA close 50 SMA close 100 SMA close 200</div>
<div class="t" style="left:404.5px;top:71px;font-size:12.7px;color:#f23645">2,356.59</div>
<div class="t" style="left:461px;top:71px;font-size:12.7px;color:#2962ff">2,328.02</div>
<div class="t" style="left:517px;top:71.5px;font-size:11px;color:#131722">∅</div>
<div class="t" style="left:531px;top:71px;font-size:12.7px;color:#131722">2,083.43</div>
<div class="t" style="left:13.3px;top:680.2px;font-size:12px;letter-spacing:-0.3px;color:#55575f">ATR 14 RMA</div>
<div class="t" style="left:88.6px;top:679.7px;font-size:12.6px;color:#c62828">35.07</div>
<div class="t" style="left:13.3px;top:721.7px;font-size:12px;color:#55575f">CCI 20 hlc3 SMA 5</div>
<div class="t" style="left:123.3px;top:721.2px;font-size:12.6px;color:#2962ff">−53.86</div>
<svg width="1506" height="834" viewBox="0 0 1506 834" style="position:absolute;left:0;top:0">
<defs>
<filter id="wsh" x="-5%" y="-10%" width="110%" height="130%"><feDropShadow dx="1.7" dy="1.9" stdDeviation="1.1" flood-color="#000" flood-opacity="1"/></filter>
<filter id="zsh" x="-10%" y="-10%" width="120%" height="130%"><feDropShadow dx="1.7" dy="1.7" stdDeviation="0.6" flood-color="#2c3650" flood-opacity="0.7"/></filter>
<mask id="hm"><rect x="0" y="0" width="1506" height="834" fill="#fff"/><path d="M1291.0 760.5 L1309.0 760.5 L1307.0 768.5 L1289.0 768.5ZM1287.5 777.0 L1305.5 777.0 L1303.0 787.0 L1285.0 787.0ZM1396.0 751.0 L1407.0 751.0 L1400.0 779.0 L1389.0 779.0Z" fill="#000"/></mask>
</defs>
<g opacity="0.55" filter="url(#wsh)"><path d="M1271.0 742.0 L1282.0 742.0 L1278.5 756.0 L1267.5 756.0ZM1268.0 759.0 L1278.0 759.0 L1274.2 774.0 L1264.2 774.0ZM1272.5 777.0 L1279.0 777.0 L1270.5 794.5 L1262.0 794.5ZM1283.0 743.0 L1323.0 743.0 L1321.0 751.0 L1281.0 751.0ZM1287.5 752.6 L1322.1 752.6 L1311.5 795.0 L1276.9 795.0ZM1262.0 789.0 L1292.0 789.0 L1290.5 795.0 L1260.5 795.0ZM1331.0 743.0 L1383.0 743.0 L1381.5 749.0 L1329.5 749.0ZM1333.0 749.0 L1340.0 749.0 L1336.5 763.0 L1329.5 763.0ZM1329.0 765.0 L1370.0 765.0 L1368.4 771.5 L1327.4 771.5ZM1323.6 779.0 L1364.6 779.0 L1363.0 785.5 L1322.0 785.5ZM1377.0 743.0 L1383.0 743.0 L1370.0 795.0 L1364.0 795.0ZM1348.0 789.0 L1371.0 789.0 L1369.5 795.0 L1346.5 795.0ZM1386.0 745.0 L1416.4 745.0 L1405.9 787.0 L1375.5 787.0ZM1386.0 787.0 L1393.0 787.0 L1387.0 795.0 L1379.0 795.0ZM1398.0 787.0 L1405.0 787.0 L1404.0 795.0 L1397.0 795.0ZM1417.0 749.0 L1444.0 749.0 L1442.5 755.0 L1415.5 755.0ZM1438.0 744.0 L1444.0 744.0 L1430.3 795.0 L1424.3 795.0ZM1424.0 755.0 L1431.0 755.0 L1418.5 783.0 L1411.5 783.0ZM1406.0 789.0 L1432.0 789.0 L1430.5 795.0 L1404.5 795.0ZM1462.0 743.7 L1469.0 743.7 L1456.6 757.0 L1449.6 757.0ZM1461.0 756.7 L1468.0 756.7 L1455.0 774.4 L1448.0 774.4ZM1445.0 776.0 L1465.0 776.0 L1463.5 782.0 L1443.5 782.0ZM1476.5 744.0 L1496.0 744.0 L1494.5 750.0 L1475.0 750.0ZM1496.5 743.7 L1503.4 743.7 L1492.6 758.3 L1485.7 758.3ZM1478.0 750.0 L1485.0 750.0 L1499.0 763.6 L1497.5 769.8 L1490.0 769.8ZM1472.0 764.0 L1498.7 764.0 L1497.2 769.8 L1470.4 769.8ZM1466.0 772.5 L1497.0 772.5 L1495.7 778.2 L1464.2 778.2ZM1477.0 778.0 L1483.0 778.0 L1480.7 789.0 L1474.7 789.0ZM1443.0 789.0 L1494.0 789.0 L1492.5 795.0 L1441.5 795.0Z" fill="#fff" mask="url(#hm)"/></g>
<g filter="url(#zsh)" font-family="Liberation Sans, sans-serif" font-weight="bold" font-style="italic" font-size="34" fill="#8fcbfd" stroke="#8fcbfd" stroke-width="1.0" stroke-linejoin="round">
<text x="1271" y="828.5">z</text><text x="1298" y="828.5">z</text><text x="1326" y="828.5">r</text><text x="1350" y="828.5">t</text><text x="1371" y="829">0</text><text x="1404" y="829">1</text><text x="1426.5" y="829">.</text><text x="1449" y="829">c</text><text x="1473" y="829">n</text>
</g>
</svg>
<svg width="1506" height="834" viewBox="0 0 1506 834">
<line x1="1439.5" y1="711" x2="1439.5" y2="833" stroke="#50535e" stroke-width="1"/>
<line x1="4" y1="805.5" x2="1503" y2="805.5" stroke="#50535e" stroke-width="1.2"/>
<text x="102.5" y="823" text-anchor="middle" font-family="Liberation Sans, sans-serif" font-size="12" fill="#5b5e68">Aug</text>
<text x="237.5" y="823" text-anchor="middle" font-family="Liberation Sans, sans-serif" font-size="12" fill="#5b5e68">Sep</text>
<text x="359.5" y="823" text-anchor="middle" font-family="Liberation Sans, sans-serif" font-size="12" fill="#5b5e68">Oct</text>
<text x="488.5" y="823" text-anchor="middle" font-family="Liberation Sans, sans-serif" font-size="12" fill="#5b5e68">Nov</text>
<text x="617.5" y="823" text-anchor="middle" font-family="Liberation Sans, sans-serif" font-size="12" fill="#5b5e68">Dec</text>
<text x="740.5" y="823" text-anchor="middle" font-family="Liberation Sans, sans-serif" font-size="12" fill="#5b5e68">2024</text>
<text x="874.5" y="823" text-anchor="middle" font-family="Liberation Sans, sans-serif" font-size="12" fill="#5b5e68">Feb</text>
<text x="997.5" y="823" text-anchor="middle" font-family="Liberation Sans, sans-serif" font-size="12" fill="#5b5e68">Mar</text>
<text x="1120.5" y="823" text-anchor="middle" font-family="Liberation Sans, sans-serif" font-size="12" fill="#5b5e68">Apr</text>
<text x="1249.5" y="823" text-anchor="middle" font-family="Liberation Sans, sans-serif" font-size="12" fill="#5b5e68">May</text>
<text x="1383.5" y="823" text-anchor="middle" font-family="Liberation Sans, sans-serif" font-size="12" fill="#5b5e68">Jun</text>
<g transform="translate(1471.5,819.5)" fill="none" stroke="#131722" stroke-width="1.1"><polygon points="-7.5,0 -3.75,-6 3.75,-6 7.5,0 3.75,6 -3.75,6"/><circle r="2.1"/></g>
</svg>
</body></html>
